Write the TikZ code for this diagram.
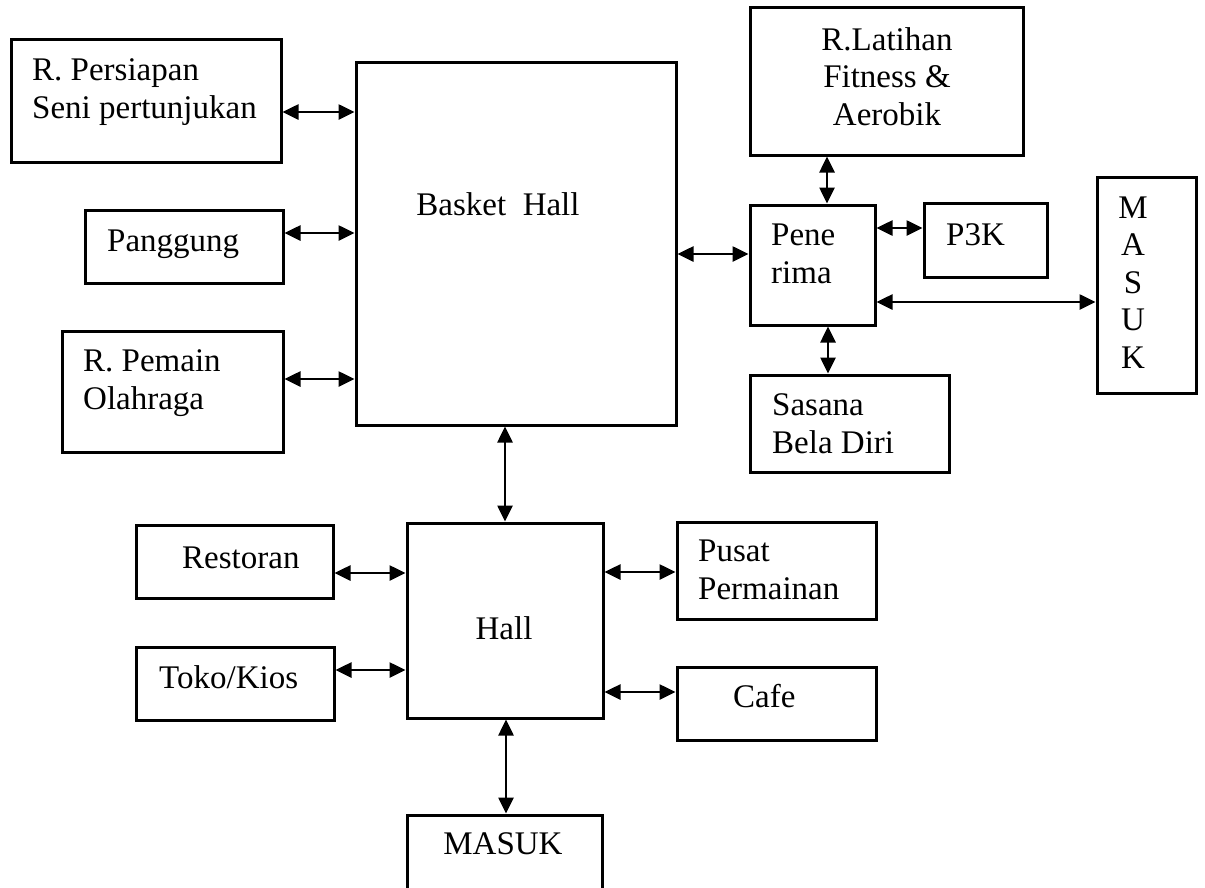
\documentclass[tikz,border=0pt]{standalone}
\usepackage{fontspec}
\setmainfont{Liberation Serif}
\usetikzlibrary{arrows.meta}

\begin{document}
\begin{tikzpicture}[x=1pt, y=-1pt,
  box/.style={draw, line width=3pt, inner sep=0pt},
  txt/.style={inner sep=0pt, font=\fontsize{33}{37.5}\selectfont},
  link/.style={line width=2.6pt,
    {Triangle[length=16pt,width=15pt]}-{Triangle[length=16pt,width=15pt]}}]

\clip (0,0) rectangle (1205,887);
\fill[white] (0,0) rectangle (1205,887);

% rooms
\node[box, minimum width=270pt, minimum height=123pt] (persiapan) at (146,100.5) {};
\node[box, minimum width=198pt, minimum height=73pt]  (panggung)  at (184,246.5) {};
\node[box, minimum width=221pt, minimum height=121pt] (pemain)    at (172.5,391.5) {};
\node[box, minimum width=320pt, minimum height=363pt] (basket)    at (516,243.5) {};
\node[box, minimum width=273pt, minimum height=148pt] (latihan)   at (886.5,81) {};
\node[box, minimum width=125pt, minimum height=120pt] (penerima)  at (812.5,265) {};
\node[box, minimum width=123pt, minimum height=74pt]  (p3k)       at (985.5,240) {};
\node[box, minimum width=99pt,  minimum height=216pt] (masukr)    at (1146.5,285) {};
\node[box, minimum width=199pt, minimum height=97pt]  (sasana)    at (849.5,423.5) {};
\node[box, minimum width=196pt, minimum height=195pt] (hall)      at (505,620.5) {};
\node[box, minimum width=197pt, minimum height=73pt]  (restoran)  at (234.5,561.5) {};
\node[box, minimum width=198pt, minimum height=73pt]  (toko)      at (235,683.5) {};
\node[box, minimum width=199pt, minimum height=97pt]  (pusat)     at (776.5,570.5) {};
\node[box, minimum width=199pt, minimum height=73pt]  (cafe)      at (776.5,703.5) {};
\node[box, minimum width=195pt, minimum height=90pt]  (masukb)    at (504.5,860) {};

% labels (base anchors sit on the last line of each label)
\node[txt, anchor=base west, align=left] (tpersiapan) at (32,118) {R. Persiapan\\Seni pertunjukan};
\node[txt, anchor=base west] (tpanggung) at (107,251) {Panggung};
\node[txt, anchor=base west, align=left] (tpemain) at (83,409) {R. Pemain\\Olahraga};
\node[txt, anchor=base] (tbasket) at (498,215) {Basket~~Hall};
\node[txt, anchor=base, align=center] (tlatihan) at (887,125) {R.Latihan\\Fitness \&\\Aerobik};
\node[txt, anchor=base west, align=left] (tpenerima) at (771,283) {Pene\\rima};
\node[txt, anchor=base west] (tp3k) at (946,245) {P3K};
\node[txt, anchor=base, align=center] (tmasukr) at (1133,368) {M\\A\\S\\U\\K};
\node[txt, anchor=base west, align=left] (tsasana) at (772,453) {Sasana\\Bela Diri};
\node[txt, anchor=base] (thall) at (504,639) {Hall};
\node[txt, anchor=base west] (trestoran) at (182,568) {Restoran};
\node[txt, anchor=base west] (ttoko) at (159,688) {Toko/Kios};
\node[txt, anchor=base west, align=left] (tpusat) at (698,599) {Pusat\\Permainan};
\node[txt, anchor=base west] (tcafe) at (733,707) {Cafe};
\node[txt, anchor=base] (tmasukb) at (503,854) {MASUK};

% connections
\draw[link] (persiapan.east |- 0,112) -- (basket.west |- 0,112);
\draw[link] (panggung.east |- 0,233) -- (basket.west |- 0,233);
\draw[link] (pemain.east |- 0,379) -- (basket.west |- 0,379);
\draw[link] (basket.east |- 0,254) -- (penerima.west |- 0,254);
\draw[link] (latihan.south -| 827,0) -- (penerima.north -| 827,0);
\draw[link] (penerima.east |- 0,228) -- (p3k.west |- 0,228);
\draw[link] (penerima.east |- 0,302) -- (masukr.west |- 0,302);
\draw[link] (penerima.south -| 828,0) -- (sasana.north -| 828,0);
\draw[link] (basket.south -| 505,0) -- (hall.north -| 505,0);
\draw[link] (restoran.east |- 0,573) -- (hall.west |- 0,573);
\draw[link] (toko.east |- 0,670) -- (hall.west |- 0,670);
\draw[link] (hall.east |- 0,572) -- (pusat.west |- 0,572);
\draw[link] (hall.east |- 0,692) -- (cafe.west |- 0,692);
\draw[link] (hall.south -| 506,0) -- (masukb.north -| 506,0);

\end{tikzpicture}
\end{document}
